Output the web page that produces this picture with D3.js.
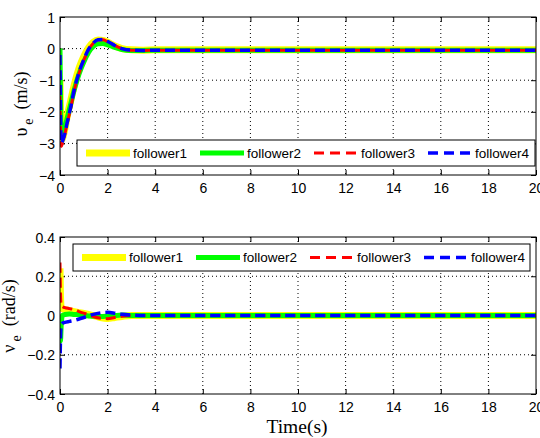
<!DOCTYPE html>
<meta charset="utf-8">
<style>
body { margin: 0; background: #fff; }
svg { display: block; background: #fff; }
.tick text, .ticklbl { font: 14px "Liberation Sans", Arial, sans-serif; fill: #000; }
.grid line { stroke: #000; stroke-width: 1; stroke-dasharray: 1,3; }
.frame { fill: none; stroke: #000; stroke-width: 1; }
.legend text { font: 13.5px "Liberation Sans", Arial, sans-serif; fill: #000; }
.ylab { font: 18px "Liberation Serif", "Times New Roman", serif; fill: #000; }
</style>
<svg width="540" height="438"></svg>
<script src="https://d3js.org/d3.v7.min.js"></script>
<script>

// ---- data ----
var names = ["follower1", "follower2", "follower3", "follower4"];
var colors = ["#ffff00", "#00ff00", "#ff0000", "#0000ff"];

// top: velocity error v_e (m/s)
var tTop = [0, 0.05, 0.1, 0.2, 0.3, 0.45, 0.6, 0.8, 1.0, 1.2, 1.4, 1.6, 1.8, 2.0, 2.3, 2.6, 3.0, 3.5, 4, 6, 8, 10, 12, 14, 16, 18, 20];
var top1 = [-1.0, -2.9, -2.85, -2.55, -2.15, -1.65, -1.15, -0.62, -0.25, 0.03, 0.2, 0.27, 0.26, 0.2, 0.08, 0.0, -0.04, -0.05, -0.04, -0.04, -0.04, -0.04, -0.04, -0.04, -0.04, -0.04, -0.04];
var top2 = [0, -2.6, -2.65, -2.5, -2.2, -1.75, -1.3, -0.8, -0.42, -0.12, 0.07, 0.15, 0.16, 0.12, 0.04, -0.03, -0.06, -0.06, -0.05, -0.05, -0.05, -0.05, -0.05, -0.05, -0.05, -0.05, -0.05];
var top3 = [-1.5, -3.1, -3.0, -2.72, -2.38, -1.88, -1.33, -0.78, -0.37, -0.03, 0.17, 0.27, 0.28, 0.22, 0.1, 0.0, -0.05, -0.06, -0.05, -0.05, -0.05, -0.05, -0.05, -0.05, -0.05, -0.05, -0.05];
var top4 = [-0.2, -3.0, -2.95, -2.7, -2.35, -1.85, -1.3, -0.75, -0.35, -0.02, 0.18, 0.28, 0.29, 0.23, 0.1, 0.0, -0.05, -0.06, -0.05, -0.05, -0.05, -0.05, -0.05, -0.05, -0.05, -0.05, -0.05];

// bottom: angular velocity error (rad/s)
var tBot = [0, 0.02, 0.05, 0.1, 0.2, 0.4, 0.6, 0.8, 1.0, 1.2, 1.4, 1.7, 2.0, 2.3, 2.6, 3.0, 3.5, 4, 6, 8, 10, 12, 14, 16, 18, 20];
var bot1 = [0.24, 0.1, 0.04, 0.035, 0.03, 0.025, 0.02, 0.015, 0.01, 0.005, 0.0, -0.01, -0.015, -0.01, -0.005, 0, 0, 0, 0, 0, 0, 0, 0, 0, 0, 0];
var bot2 = [0, -0.13, -0.05, 0.0, 0.005, 0.008, 0.005, 0.004, 0.0, -0.002, -0.004, -0.005, -0.003, 0.0, 0.002, 0, 0, 0, 0, 0, 0, 0, 0, 0, 0, 0];
var bot3 = [0.27, 0.12, 0.05, 0.045, 0.04, 0.035, 0.03, 0.02, 0.012, 0.005, -0.005, -0.014, -0.016, -0.01, -0.004, 0, 0, 0, 0, 0, 0, 0, 0, 0, 0, 0];
var bot4 = [-0.27, -0.12, -0.05, -0.04, -0.035, -0.03, -0.025, -0.018, -0.01, -0.002, 0.006, 0.013, 0.016, 0.012, 0.006, 0.002, 0, 0, 0, 0, 0, 0, 0, 0, 0, 0, 0];

var xTicks = [0, 2, 4, 6, 8, 10, 12, 14, 16, 18, 20];
var yTicksTop = [1, 0, -1, -2, -3, -4];
var yTicksBot = [0.4, 0.2, 0, -0.2, -0.4];

// ---- layout ----
var svg = d3.select("svg");
var left = 60, right = 536;

var styles = [
  { w: 7, dash: null },
  { w: 5, dash: null },
  { w: 3, dash: "10,5" },
  { w: 3.5, dash: "10,5" }
];

function drawPanel(opt) {
  var x = d3.scaleLinear().domain([0, 20]).range([left, right]);
  var y = d3.scaleLinear().domain(opt.yDomain).range([opt.bottom, opt.top]);
  var g = svg.append("g");

  g.append("clipPath").attr("id", opt.id)
    .append("rect")
      .attr("x", left).attr("y", opt.top)
      .attr("width", right - left).attr("height", opt.bottom - opt.top);

  // grid
  var grid = g.append("g").attr("class", "grid");
  grid.selectAll(".gx")
    .data(xTicks.filter(function(d) { return d > 0 && d < 20; }))
    .enter().append("line")
      .attr("x1", function(d) { return x(d); }).attr("x2", function(d) { return x(d); })
      .attr("y1", opt.top).attr("y2", opt.bottom);
  grid.selectAll(".gy")
    .data(opt.yTicks.filter(function(d) { return d > opt.yDomain[0] && d < opt.yDomain[1]; }))
    .enter().append("line")
      .attr("x1", left).attr("x2", right)
      .attr("y1", function(d) { return y(d); }).attr("y2", function(d) { return y(d); });

  // axes, ticks pointing inward
  var ax = g.append("g").attr("transform", "translate(0," + opt.bottom + ")")
    .call(d3.axisBottom(x).tickValues(xTicks).tickSize(-5).tickFormat(d3.format("d")));
  ax.selectAll("text").attr("y", 0).attr("dy", 17.5);
  g.append("g").attr("transform", "translate(0," + opt.top + ")")
    .call(d3.axisTop(x).tickValues(xTicks).tickSize(-5).tickFormat(""));
  var ay = g.append("g").attr("transform", "translate(" + left + ",0)")
    .call(d3.axisLeft(y).tickValues(opt.yTicks).tickSize(-5).tickFormat(opt.fmt));
  ay.selectAll("text").attr("x", -5).attr("dy", "0.36em");
  g.append("g").attr("transform", "translate(" + right + ",0)")
    .call(d3.axisRight(y).tickValues(opt.yTicks).tickSize(-5).tickFormat(""));
  g.selectAll(".domain").remove();
  g.selectAll(".tick line").attr("stroke", "#000");

  // curves
  var lines = g.append("g").attr("clip-path", "url(#" + opt.id + ")");
  opt.series.forEach(function(vals, i) {
    var pts = opt.t.map(function(t, k) { return [t, vals[k]]; });
    lines.append("path")
      .datum(pts)
      .attr("fill", "none")
      .attr("stroke", colors[i])
      .attr("stroke-width", styles[i].w)
      .attr("stroke-dasharray", styles[i].dash)
      .attr("stroke-linejoin", "round")
      .attr("d", d3.line().curve(d3.curveMonotoneX)
        .x(function(d) { return x(d[0]); })
        .y(function(d) { return y(d[1]); }));
  });

  g.append("rect").attr("class", "frame")
    .attr("x", left).attr("y", opt.top)
    .attr("width", right - left).attr("height", opt.bottom - opt.top);

  // legend
  var L = opt.legend;
  var lg = g.append("g").attr("class", "legend");
  lg.append("rect")
    .attr("x", L.x).attr("y", L.y).attr("width", L.w).attr("height", L.h)
    .attr("fill", "#fff").attr("stroke", "#000");
  names.forEach(function(n, i) {
    var sx = L.x + L.pad + i * L.step;
    var cy = L.y + L.h / 2;
    lg.append("line")
      .attr("x1", sx).attr("x2", sx + 44)
      .attr("y1", cy).attr("y2", cy)
      .attr("stroke", colors[i])
      .attr("stroke-width", styles[i].w)
      .attr("stroke-dasharray", styles[i].dash ? "10,6" : null);
    lg.append("text")
      .attr("x", sx + 47).attr("y", cy).attr("dy", "0.36em")
      .text(n);
  });

  // y label (TeX-like spacing around the subscript)
  var yl = svg.append("text").attr("class", "ylab")
    .attr("transform", "translate(" + opt.ylx + "," + opt.yly + ") rotate(-90)")
    .attr("text-anchor", "middle");
  yl.append("tspan").text(opt.ysym);
  yl.append("tspan").attr("dx", 3).attr("dy", 6).attr("font-size", "14px").text("e");
  yl.append("tspan").attr("dx", 9).attr("dy", -6).text(opt.yunit);
}

drawPanel({
  id: "clipTop", top: 17, bottom: 175, yDomain: [-4, 1], yTicks: yTicksTop,
  fmt: d3.format("d"), t: tTop, series: [top1, top2, top3, top4],
  legend: { x: 77, y: 140, w: 458, h: 26, pad: 9, step: 114 },
  ylx: 27, yly: 104, ysym: "υ", yunit: "(m/s)"
});

drawPanel({
  id: "clipBot", top: 237, bottom: 394, yDomain: [-0.4, 0.4], yTicks: yTicksBot,
  fmt: function(d) { return d === 0 ? "0" : d3.format(".1f")(d); },
  t: tBot, series: [bot1, bot2, bot3, bot4],
  legend: { x: 73, y: 244, w: 457, h: 27, pad: 9, step: 114 },
  ylx: 15, yly: 316, ysym: "ν", yunit: "(rad/s)"
});

svg.append("text")
  .attr("x", 297).attr("y", 433)
  .attr("text-anchor", "middle")
  .style("font", "19.5px 'Liberation Serif', 'Times New Roman', serif")
  .text("Time(s)");

</script>
